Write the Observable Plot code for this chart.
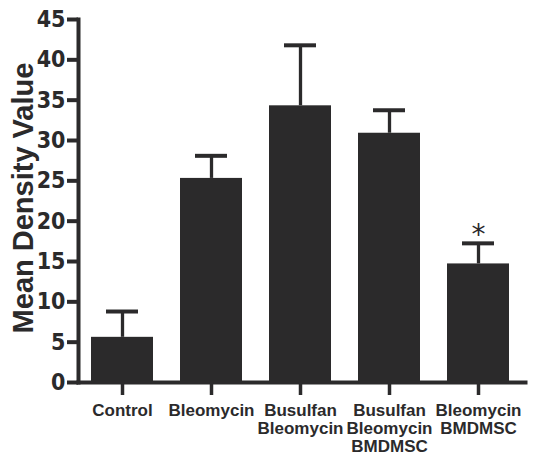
<!DOCTYPE html>
<html><head><meta charset="utf-8">
<script src="https://cdn.jsdelivr.net/npm/d3@7"></script>
<script src="https://cdn.jsdelivr.net/npm/@observablehq/plot@0.6"></script>
<style>body{margin:0;background:#fff}</style>
</head><body><div id="chart"></div>
<script>
const categories = ["Control", "Bleomycin", "Busulfan\nBleomycin", "Busulfan\nBleomycin\nBMDMSC", "Bleomycin\nBMDMSC"];
const means = [5.6, 25.3, 34.3, 30.9, 14.7];
const errors = [3.2, 2.8, 7.5, 2.85, 2.55];
const significant = [false, false, false, false, true];
const yTicks = [0, 5, 10, 15, 20, 25, 30, 35, 40, 45];
const yTitle = "Mean Density Value";

const data = categories.map((c, i) => ({group: c, mean: means[i], top: means[i] + errors[i], sig: significant[i]}));
const ink = "#2b2a2b";

const chart = Plot.plot({
  width: 538, height: 456,
  marginLeft: 78, marginRight: 13, marginTop: 19, marginBottom: 74,
  style: {fontFamily: "'Liberation Sans', Arial, sans-serif", color: ink, background: "#fff"},
  x: {domain: categories, paddingInner: 0.3, paddingOuter: 0.154, align: 0.45, label: null},
  y: {domain: [0, 45], label: null},
  marks: [
    Plot.ruleX(data, {x: "group", y1: "mean", y2: "top", stroke: ink, strokeWidth: 3.3}),
    Plot.tickY(data, {x: "group", y: "top", stroke: ink, strokeWidth: 4, insetLeft: 15, insetRight: 15}),
    Plot.barY(data, {x: "group", y: "mean", fill: ink}),
    Plot.text(data.filter(d => d.sig), {x: "group", y: "top", text: () => "*", fontFamily: "'DejaVu Sans'", fontSize: 28, dy: -8, fill: ink}),
    Plot.frame({anchor: "left", stroke: ink, strokeWidth: 4}),
    Plot.frame({anchor: "bottom", stroke: ink, strokeWidth: 4}),
    Plot.axisY({ticks: yTicks, tickSize: 11, tickPadding: 2, strokeWidth: 4, fontSize: 23, fontWeight: "bold",
      fontFamily: "'Liberation Sans Narrow', 'DejaVu Sans Condensed', sans-serif", label: null}),
    Plot.axisX({tickSize: 13, tickPadding: 7, strokeWidth: 3.5, fontSize: 17, fontWeight: "bold", lineHeight: 1.08, label: null}),
    Plot.text([yTitle], {frameAnchor: "left", textAnchor: "middle", rotate: -90, dx: -55, dy: -3, fontSize: 29, fontWeight: "bold", fill: ink})
  ]
});
document.getElementById("chart").append(chart);
</script>
</body></html>
